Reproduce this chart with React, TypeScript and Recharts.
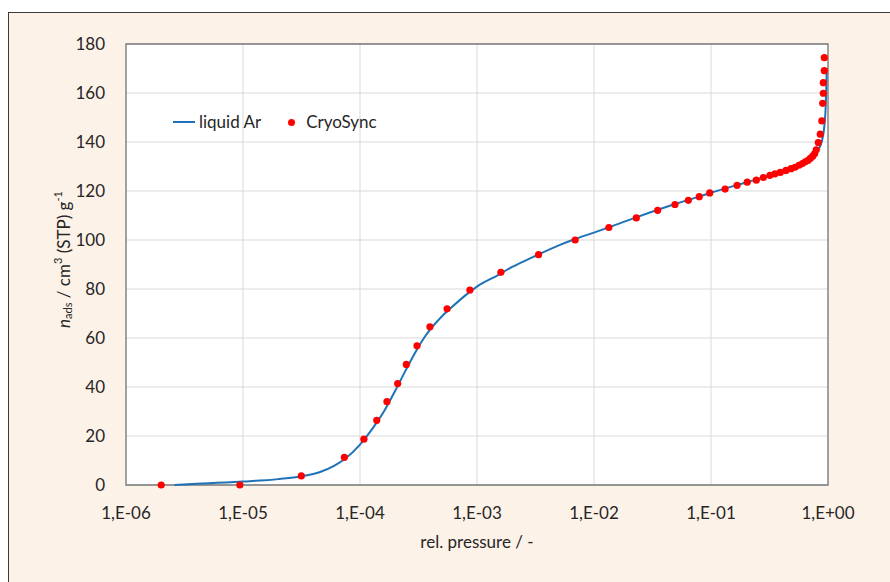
import React from 'react';
import {
  ComposedChart,
  Line,
  Scatter,
  XAxis,
  YAxis,
  CartesianGrid,
  ReferenceArea,
  Label,
} from 'recharts';

// liquid Ar reference isotherm (relative pressure, amount adsorbed)
const liquidArP = [
  2.6e-6, 4e-6, 6e-6, 1e-5, 2e-5, 3e-5, 4.5e-5, 6e-5, 7.5e-5, 1e-4, 1.3e-4, 1.6e-4, 2e-4, 2.5e-4,
  3e-4, 3.5e-4, 4e-4, 5e-4, 6e-4, 8e-4, 1e-3, 1.5e-3, 2e-3, 3e-3, 5e-3, 7e-3, 1e-2, 2e-2, 3e-2,
  5e-2, 8e-2, 0.1, 0.15, 0.2, 0.3, 0.4, 0.5, 0.6, 0.7, 0.78, 0.83, 0.886, 0.93, 0.956, 0.968, 0.975,
];
const liquidArN = [
  0, 0.5, 0.9, 1.4, 2.4, 3.4, 5.2, 7.8, 10.8, 16.5, 23.5, 30, 38.5, 47.5,
  54.5, 59.8, 63.6, 68.8, 72.3, 77.5, 81, 85.6, 89, 93, 97.8, 100.5, 103, 108.2, 111.2,
  114.8, 117.8, 119.3, 121.8, 123.5, 126, 128, 129.6, 131.2, 132.8, 134.5, 137, 140.3, 146.4, 154.6, 163, 170,
];

// CryoSync measured points
const cryoP = [
  2.0e-6, 9.4e-6, 3.15e-5, 7.35e-5, 1.08e-4, 1.39e-4, 1.7e-4, 2.1e-4, 2.49e-4, 3.07e-4, 3.96e-4,
  5.55e-4, 8.7e-4, 1.6e-3, 3.36e-3, 6.9e-3, 1.34e-2, 2.3e-2, 3.5e-2, 4.92e-2, 6.4e-2, 7.94e-2,
  9.75e-2, 0.132, 0.167, 0.204, 0.244, 0.28, 0.319, 0.352, 0.391, 0.437, 0.483, 0.523, 0.565,
  0.604, 0.64, 0.675, 0.706, 0.74, 0.769, 0.794, 0.826, 0.859, 0.886, 0.901, 0.912, 0.912, 0.93, 0.93,
];
const cryoN = [
  0, 0, 3.7, 11.3, 18.7, 26.4, 34, 41.4, 49.2, 56.8, 64.6,
  71.9, 79.6, 86.8, 94, 100, 105.1, 109, 112.1, 114.5, 116.2, 117.7,
  119.2, 120.8, 122.3, 123.6, 124.4, 125.5, 126.4, 127, 127.6, 128.4, 129.1, 129.7, 130.5,
  131.2, 131.9, 132.5, 133.3, 134.2, 135.3, 136.8, 139.8, 143.2, 148.6, 155.8, 159.9, 164.2, 169.1, 174.4,
];

const xTicks = [1e-6, 1e-5, 1e-4, 1e-3, 1e-2, 1e-1, 1];
const yTicks = [0, 20, 40, 60, 80, 100, 120, 140, 160, 180];

const lineData = liquidArP.map((p, i) => ({ p, n: liquidArN[i] }));
const cryoData = cryoP.map((p, i) => ({ p, n: cryoN[i] }));

const FONT = 'Lato, "Open Sans", sans-serif';
const TEXT = '#262626';
const BLUE = '#1f72b8';
const RED = '#ff0000';

const fmtSci = (v: number) => {
  const e = Math.round(Math.log10(v));
  const sign = e < 0 ? '-' : '+';
  return `1,E${sign}${String(Math.abs(e)).padStart(2, '0')}`;
};

const Dot = (props: any) => <circle cx={props.cx} cy={props.cy} r={3.6} fill={RED} />;

const YTitle = (props: any) => {
  const { viewBox } = props;
  const cx = 54;
  const cy = viewBox.y + viewBox.height / 2 - 5;
  return (
    <text
      x={cx}
      y={cy}
      transform={`rotate(-90, ${cx}, ${cy})`}
      textAnchor="middle"
      dominantBaseline="central"
      fontFamily={FONT}
      fontSize={17}
      fill={TEXT}
    >
      <tspan fontStyle="italic">n</tspan>
      <tspan fontSize={11} dy={4}>ads</tspan>
      <tspan dy={-4}> / cm</tspan>
      <tspan fontSize={11} dy={-6}>3</tspan>
      <tspan dy={6}> (STP) g</tspan>
      <tspan fontSize={11} dy={-6}>-1</tspan>
    </text>
  );
};

export default function App() {
  return (
    <div
      style={{
        position: 'fixed',
        left: 8,
        top: 12,
        width: 882,
        height: 570,
        background: '#fdf2e8',
        borderLeft: '1px solid #3a3a3a',
        borderTop: '1px solid #3a3a3a',
        boxSizing: 'border-box',
      }}
    >
      <ComposedChart
        width={881}
        height={569}
        margin={{ top: 31, right: 62, left: 47, bottom: 67 }}
        style={{ fontFamily: FONT }}
      >
        <CartesianGrid stroke="#d9d9d9" strokeWidth={1} fill="#ffffff" fillOpacity={1} />
        <XAxis
          dataKey="p"
          type="number"
          scale="log"
          domain={[1e-6, 1]}
          ticks={xTicks}
          tickFormatter={fmtSci}
          allowDataOverflow
          tickLine={false}
          axisLine={false}
          tickMargin={16}
          tick={{ fill: TEXT, fontSize: 17, fontFamily: FONT }}
        >
          <Label
            value="rel. pressure / -"
            position="bottom"
            offset={21}
            style={{ fill: TEXT, fontSize: 17, fontFamily: FONT }}
          />
        </XAxis>
        <YAxis
          dataKey="n"
          type="number"
          domain={[0, 180]}
          ticks={yTicks}
          width={70}
          tickLine={false}
          axisLine={false}
          tickMargin={15}
          tick={{ fill: TEXT, fontSize: 17, fontFamily: FONT }}
        >
          <Label content={<YTitle />} position="insideLeft" />
        </YAxis>
        <Line
          data={lineData}
          dataKey="n"
          name="liquid Ar"
          type="monotone"
          stroke={BLUE}
          strokeWidth={2}
          dot={false}
          activeDot={false}
          isAnimationActive={false}
        />
        <Scatter data={cryoData} dataKey="n" name="CryoSync" fill={RED} shape={<Dot />} isAnimationActive={false} />
        <ReferenceArea
          x1={1e-6}
          x2={1}
          y1={0}
          y2={180}
          fill="none"
          stroke="#7a7a7a"
          strokeWidth={1.3}
          ifOverflow="visible"
        />
      </ComposedChart>
      <div
        style={{
          position: 'absolute',
          left: 164,
          top: 97,
          display: 'flex',
          alignItems: 'center',
          fontFamily: FONT,
          fontSize: 17,
          color: TEXT,
          lineHeight: '24px',
        }}
      >
        <span style={{ display: 'inline-block', width: 22, height: 2, background: BLUE, marginRight: 4 }} />
        <span>liquid Ar</span>
        <span
          style={{
            display: 'inline-block',
            width: 7,
            height: 7,
            borderRadius: '50%',
            background: RED,
            marginLeft: 27,
            marginRight: 11,
          }}
        />
        <span>CryoSync</span>
      </div>
    </div>
  );
}
